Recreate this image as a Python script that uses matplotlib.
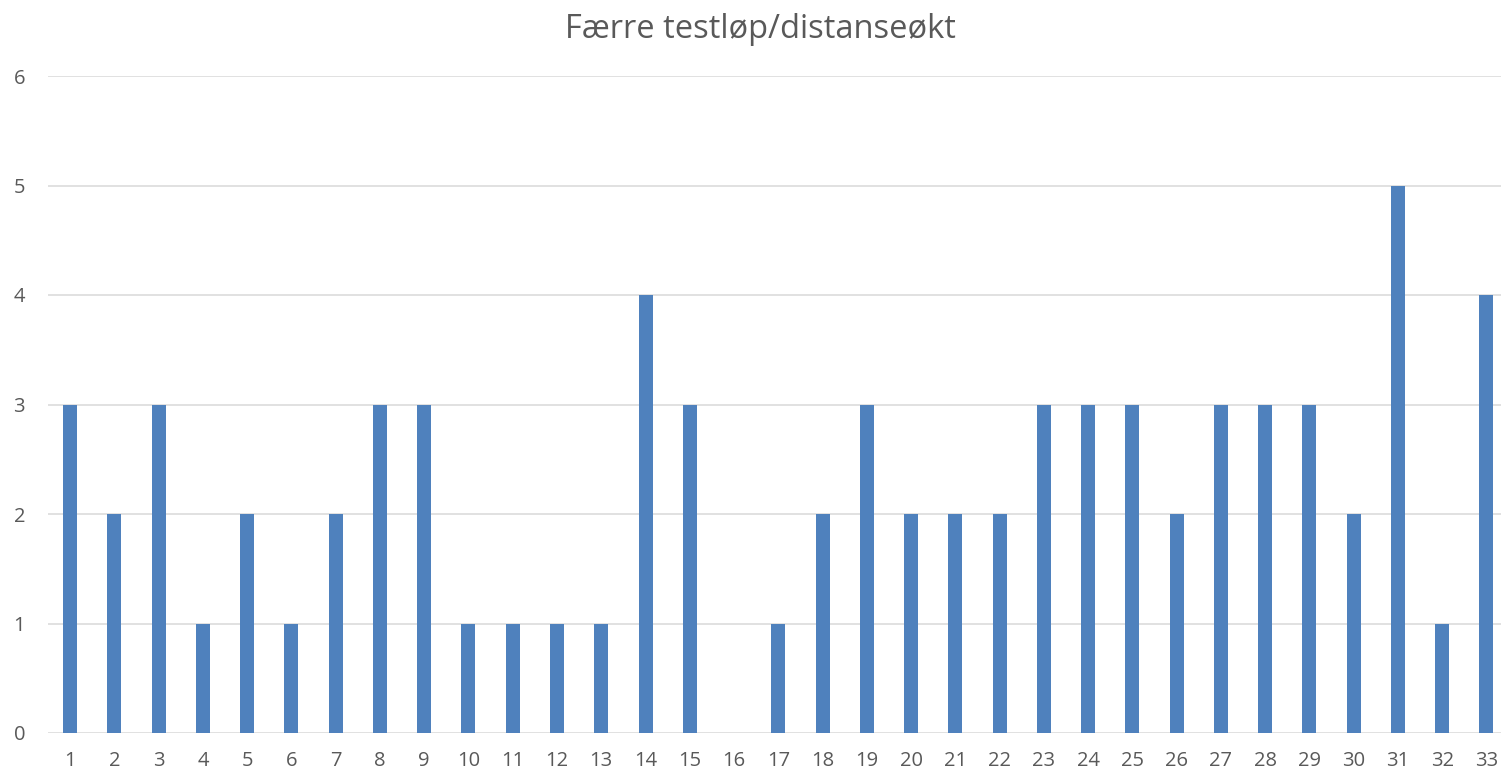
import matplotlib.pyplot as plt

weeks = list(range(1, 34))
counts = [3, 2, 3, 1, 2, 1, 2, 3, 3, 1, 1, 1, 1, 4, 3, 0, 1, 2, 3, 2, 2, 2,
          3, 3, 3, 2, 3, 3, 3, 2, 5, 1, 4]
yticks = [0, 1, 2, 3, 4, 5, 6]
title = "Færre testløp/distanseøkt"

plt.rcParams['font.family'] = ['Open Sans', 'DejaVu Sans']
text_color = "#595959"

fig = plt.figure(figsize=(15.01, 7.75), dpi=100)
ax = fig.add_axes([48 / 1501, 1 - 733 / 775, 1460.6 / 1501, (733 - 76) / 775])

ax.bar(weeks, counts, width=0.316, color="#4F81BD", zorder=3)

ax.set_xlim(0.5, 33.5)
ax.set_ylim(0, 6)
ax.set_yticks(yticks)
ax.set_xticks(weeks)
ax.grid(axis="y", color="#d9d9d9", linewidth=1.1, zorder=0)
for s in ax.spines.values():
    s.set_visible(False)
ax.tick_params(axis="both", length=0, labelsize=14.5, labelcolor=text_color)
ax.tick_params(axis="x", pad=13)
ax.tick_params(axis="y", pad=16.5)

fig.text(760 / 1501, 1 - 30 / 775, title, ha="center", va="center",
         fontsize=23.5, color=text_color)

fig.savefig("out.png", dpi=100)
